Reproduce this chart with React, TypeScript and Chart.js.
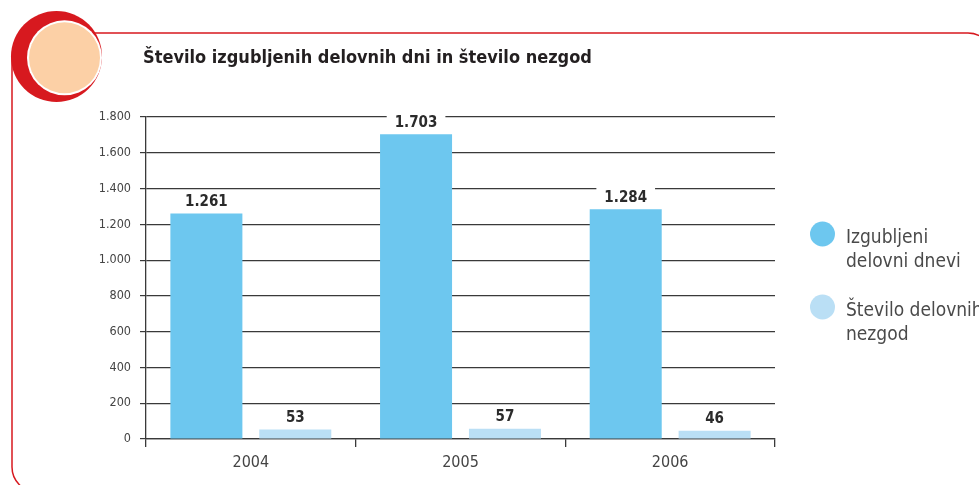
import React, { useEffect, useRef } from 'react';
import { Chart, registerables } from 'chart.js';

Chart.register(...registerables);

const title = 'Število izgubljenih delovnih dni in število nezgod';
const categories = ['2004', '2005', '2006'];
const lostDays = [1261, 1703, 1284];
const accidents = [53, 57, 46];
const seriesNames = ['Izgubljeni delovni dnevi', 'Število delovnih nezgod'];
const legendLines = [['Izgubljeni', 'delovni dnevi'], ['Število delovnih', 'nezgod']];
const seriesColors = ['#6DC7EF', '#BADFF5'];
const yMax = 1800;
const yStep = 200;

const FONT = '"DejaVu Sans Condensed", "Liberation Sans Narrow", "Arial Narrow", sans-serif';
const RED = '#D7191F';
const PEACH = '#FCD0A6';
const TEXT = '#444444';
const DARK = '#3a3a3a';

function fmt(n: number): string {
  return String(Math.round(n)).replace(/\B(?=(\d{3})+(?!\d))/g, '.');
}

const decorPlugin = {
  id: 'decor',
  beforeDraw(chart: any) {
    const ctx = chart.ctx as CanvasRenderingContext2D;
    ctx.save();
    ctx.fillStyle = '#ffffff';
    ctx.fillRect(0, 0, chart.width, chart.height);
    // frame
    ctx.strokeStyle = RED;
    ctx.lineWidth = 1.5;
    ctx.beginPath();
    (ctx as any).roundRect(12, 33, 981, 459, 25);
    ctx.stroke();
    // circles
    ctx.fillStyle = RED;
    ctx.beginPath();
    ctx.arc(56.5, 56.5, 45.5, 0, Math.PI * 2);
    ctx.fill();
    ctx.fillStyle = '#ffffff';
    ctx.beginPath();
    ctx.arc(64.5, 57.8, 37.5, 0, Math.PI * 2);
    ctx.fill();
    ctx.fillStyle = PEACH;
    ctx.beginPath();
    ctx.arc(64.5, 57.8, 35.5, 0, Math.PI * 2);
    ctx.fill();
    // title
    ctx.fillStyle = '#231F20';
    ctx.font = `bold 18px ${FONT}`;
    ctx.textBaseline = 'alphabetic';
    ctx.textAlign = 'left';
    ctx.fillText(title, 143, 63);
    ctx.restore();
  },
  afterDraw(chart: any) {
    const ctx = chart.ctx as CanvasRenderingContext2D;
    ctx.save();
    const centers = [234, 307];
    legendLines.forEach((lines, i) => {
      const cy = centers[i];
      ctx.fillStyle = seriesColors[i];
      ctx.beginPath();
      ctx.arc(822.5, cy, 12.5, 0, Math.PI * 2);
      ctx.fill();
      ctx.fillStyle = '#4a4a4a';
      ctx.font = `19px ${FONT}`;
      ctx.textAlign = 'left';
      ctx.textBaseline = 'alphabetic';
      lines.forEach((line, j) => {
        ctx.fillText(line, 846, cy + 9 + j * 23.5);
      });
    });
    ctx.restore();
  },
};

const valueLabelPlugin = {
  id: 'valueLabels',
  afterDatasetsDraw(chart: any) {
    const ctx = chart.ctx as CanvasRenderingContext2D;
    ctx.save();
    ctx.font = `bold 15px ${FONT}`;
    ctx.textAlign = 'center';
    ctx.textBaseline = 'alphabetic';
    chart.data.datasets.forEach((ds: any, di: number) => {
      const meta = chart.getDatasetMeta(di);
      meta.data.forEach((el: any, i: number) => {
        const text = fmt(ds.data[i]);
        const w = ctx.measureText(text).width;
        const base = el.y - 7.5;
        ctx.fillStyle = '#ffffff';
        ctx.fillRect(el.x - w / 2 - 8, base - 14, w + 16, 17);
        ctx.fillStyle = '#2b2b2b';
        ctx.fillText(text, el.x, base);
      });
    });
    ctx.restore();
  },
};

export default function App() {
  const ref = useRef<HTMLCanvasElement | null>(null);
  useEffect(() => {
    if (!ref.current) return;
    const chart = new Chart(ref.current, {
      type: 'bar',
      data: {
        labels: categories,
        datasets: [
          { label: seriesNames[0], data: lostDays, backgroundColor: seriesColors[0], borderWidth: 0 },
          { label: seriesNames[1], data: accidents, backgroundColor: seriesColors[1], borderWidth: 0 },
        ],
      },
      options: {
        animation: false,
        responsive: false,
        devicePixelRatio: 1,
        barPercentage: 0.81,
        categoryPercentage: 0.848,
        layout: { padding: { left: 0, right: 204, top: 117, bottom: 0 } },
        plugins: { legend: { display: false }, tooltip: { enabled: false }, title: { display: false } },
        scales: {
          x: {
            ticks: { font: { family: FONT, size: 16 }, color: TEXT, padding: 6 },
            grid: { drawOnChartArea: false, tickLength: 8, color: DARK, lineWidth: 1.3, offset: true },
            border: { color: DARK, width: 1.3 },
            afterFit: (s: any) => { s.height = 46; },
          },
          y: {
            min: 0,
            max: yMax,
            ticks: { stepSize: yStep, callback: (v: any) => fmt(Number(v)), font: { family: FONT, size: 12.5 }, color: TEXT, padding: 9 },
            grid: { color: DARK, lineWidth: 1.2, tickLength: 6 },
            border: { display: true, color: DARK, width: 1.3 },
            afterFit: (s: any) => { s.width = 146; },
          },
        },
      } as any,
      plugins: [decorPlugin, valueLabelPlugin],
    });
    return () => chart.destroy();
  }, []);
  return (
    <div style={{ position: 'absolute', left: 0, top: 0, width: 979, height: 485 }}>
      <canvas ref={ref} width={979} height={485} style={{ width: 979, height: 485, display: 'block' }} />
    </div>
  );
}
